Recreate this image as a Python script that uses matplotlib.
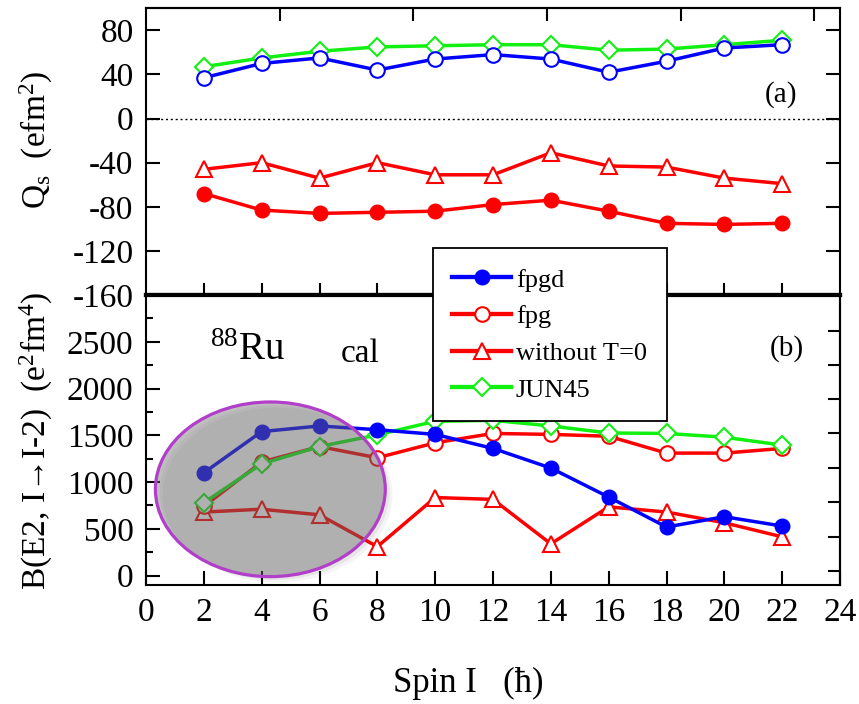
import matplotlib
matplotlib.use("Agg")
import matplotlib.pyplot as plt
from matplotlib.lines import Line2D
from matplotlib.patches import Ellipse

plt.rcParams['font.family'] = ['Liberation Serif', 'DejaVu Serif']
plt.rcParams['mathtext.fontset'] = 'custom'
plt.rcParams['mathtext.rm'] = 'Liberation Serif'
plt.rcParams['mathtext.it'] = 'Liberation Serif:italic'

# ---------------- data ----------------
spin = [2, 4, 6, 8, 10, 12, 14, 16, 18, 20, 22]

# panel (a): spectroscopic quadrupole moment Qs (efm^2)
qs_blue_open = [37, 50, 55, 44, 54, 58, 54, 42, 52, 64, 67]
qs_green = [47, 55, 61, 65, 66, 67, 67, 62, 63, 67, 71]
qs_red_tri = [-46, -40, -54, -40, -51, -51, -31, -43, -44, -54, -59]
qs_red_filled = [-68, -83, -86, -85, -84, -78, -74, -84, -95, -96, -95]

# panel (b): B(E2, I->I-2) (e^2 fm^4)
be2_fpgd = [1100, 1540, 1600, 1560, 1510, 1360, 1150, 840, 520, 630, 530]
be2_fpg = [740, 1215, 1380, 1260, 1420, 1520, 1510, 1490, 1310, 1310, 1360]
be2_noT0 = [680, 710, 650, 310, 835, 815, 340, 735, 680, 565, 415]
be2_jun45 = [780, 1195, 1380, 1505, 1650, 1660, 1600, 1525, 1520, 1480, 1395]

labels = ['fpgd', 'fpg', 'without T=0', 'JUN45']
xticks = [0, 2, 4, 6, 8, 10, 12, 14, 16, 18, 20, 22, 24]
qs_ticks = [-160, -120, -80, -40, 0, 40, 80]
be2_ticks = [0, 500, 1000, 1500, 2000, 2500]

BLUE = '#0000ff'
RED = '#ff0000'
GREEN = '#11f011'
LW = 2.5
MS = 10.5

fig = plt.figure(figsize=(8.59, 7.04), dpi=100)
L, R = 146 / 859, 840 / 859
TOP, MID, BOT = 1 - 8.3 / 704, 1 - 295 / 704, 1 - 585 / 704
ax1 = fig.add_axes([L, MID, R - L, TOP - MID])
ax2 = fig.add_axes([L, BOT, R - L, MID - BOT])

TICKFS = 24

# ---------- panel (a) ----------
ax1.axhline(0, color='black', lw=1.0, ls=(0, (1.5, 2)), zorder=1)
ax1.plot(spin, qs_red_filled, color=RED, lw=LW, marker='o', ms=MS, mfc=RED, mec=RED, zorder=3)
ax1.plot(spin, qs_red_tri, color=RED, lw=LW, marker='^', ms=MS + 1, mfc='white', mec=RED, mew=1.5, zorder=3)
ax1.plot(spin, qs_green, color=GREEN, lw=LW, marker='D', ms=MS - 1.5, mfc='white', mec=GREEN, mew=1.5, zorder=3)
ax1.plot(spin, qs_blue_open, color=BLUE, lw=LW, marker='o', ms=MS, mfc='white', mec=BLUE, mew=1.5, zorder=4)
ax1.set_xlim(0, 24)
ax1.set_ylim(-160, 100)
ax1.set_yticks(qs_ticks)
ax1.set_yticklabels([str(v) for v in qs_ticks], fontsize=TICKFS)
ax1.set_xticks(spin)
ax1.tick_params(axis='x', which='both', direction='in', length=9, width=1.5,
                bottom=True, top=False, labelbottom=False)
ax1.tick_params(axis='y', direction='in', length=10, width=1.5, left=True, right=True, pad=9)
sec_top = ax1.secondary_xaxis('top')
sec_top.set_xticks([4.62, 9.25, 13.87, 18.49, 23.1])
sec_top.tick_params(direction='in', length=9, width=1.5, labeltop=False)
sec_top.spines['top'].set_linewidth(1.5)
ax1.text(21.95, 22, '(a)', fontsize=21, ha='center', va='center')

# ---------- panel (b) ----------
ax2.plot(spin, be2_noT0, color=RED, lw=LW, marker='^', ms=MS + 1, mfc='white', mec=RED, mew=1.5, zorder=3)
ax2.plot(spin, be2_fpg, color=RED, lw=LW, marker='o', ms=MS, mfc='white', mec=RED, mew=1.5, zorder=3)
ax2.plot(spin, be2_jun45, color=GREEN, lw=LW, marker='D', ms=MS - 1.5, mfc='white', mec=GREEN, mew=1.5, zorder=3)
ax2.plot(spin, be2_fpgd, color=BLUE, lw=LW, marker='o', ms=MS, mfc=BLUE, mec=BLUE, zorder=4)
ax2.set_xlim(0, 24)
ax2.set_ylim(-100, 3000)
ax2.set_xticks(xticks)
ax2.set_xticklabels([str(v) for v in xticks], fontsize=TICKFS)
ax2.set_yticks(be2_ticks)
ax2.set_yticklabels([str(v) for v in be2_ticks], fontsize=TICKFS)
ax2.set_yticks([250, 750, 1250, 1750, 2250, 2750], minor=True)
ax2.tick_params(axis='x', direction='in', length=10, width=1.5, top=False, pad=9)
ax2.tick_params(axis='y', which='major', direction='in', length=10, width=1.5, left=True, right=False, pad=9)
ax2.tick_params(axis='y', which='minor', direction='in', length=5, width=1.5, left=True, right=False)
sec_r = ax2.secondary_yaxis('right')
sec_r.set_yticks([50, 418, 786, 1152, 1520, 1888, 2250, 2615])
sec_r.tick_params(direction='in', length=9, width=1.5, labelright=False)
sec_r.spines['right'].set_linewidth(1.5)

for ax in (ax1, ax2):
    for s in ax.spines.values():
        s.set_linewidth(1.5)
ax1.spines['bottom'].set_linewidth(3.0)
ax2.spines['top'].set_linewidth(3.0)

# highlighted region
for dx, dy, a in [(0.25, -60, 0.06), (0.15, -35, 0.08)]:
    ax2.add_patch(Ellipse((4.3 + dx, 923 + dy), 7.95, 1867, facecolor='0.3',
                          edgecolor='none', alpha=a, zorder=5))
ell = Ellipse((4.3, 923), 7.95, 1867, facecolor='0.40', edgecolor='none', alpha=0.42, zorder=6)
ax2.add_patch(ell)
ell_edge = Ellipse((4.3, 923), 7.95, 1867, facecolor='none', edgecolor='#b23fc9', lw=2.3, zorder=7)
ax2.add_patch(ell_edge)

ax2.text(2.2, 2300, r'$^{\mathrm{88}}$Ru', fontsize=28, ha='left', va='baseline')
ax2.text(6.75, 2285, 'cal', fontsize=24, ha='left', va='baseline')
ax2.text(22.15, 2425, '(b)', fontsize=21, ha='center', va='center')

# axis labels
fig.text(46 / 859, 1 - 140 / 704, r'$\mathrm{Q_s}$  (efm$^\mathrm{2}$)', rotation=90,
         fontsize=24, ha='center', va='baseline', rotation_mode='anchor')
fig.text(46 / 859, 1 - 441 / 704, r'B(E2, I→I-2)  (e$^\mathrm{2}$fm$^\mathrm{4}$)', rotation=90,
         fontsize=24, ha='center', va='baseline', rotation_mode='anchor')
fig.text(468 / 859, 1 - 692 / 704, 'Spin I   (ħ)', fontsize=25, ha='center', va='baseline')

# legend
handles = [
    Line2D([], [], color=BLUE, lw=LW + 0.6, marker='o', ms=MS, mfc=BLUE, mec=BLUE),
    Line2D([], [], color=RED, lw=LW + 0.6, marker='o', ms=MS, mfc='white', mec=RED, mew=1.5),
    Line2D([], [], color=RED, lw=LW + 0.6, marker='^', ms=MS + 1, mfc='white', mec=RED, mew=1.5),
    Line2D([], [], color=GREEN, lw=LW + 0.6, marker='D', ms=MS - 1.5, mfc='white', mec=GREEN, mew=1.5),
]
leg = fig.legend(handles, labels, loc='upper left', bbox_to_anchor=(432.7 / 859, 1 - 248.3 / 704),
                 fontsize=19, frameon=True, fancybox=False, edgecolor='black', framealpha=1,
                 handlelength=2.2, handletextpad=0.2, labelspacing=0.5, borderpad=0.75,
                 borderaxespad=0, numpoints=1)
leg.get_frame().set_linewidth(1.3)
leg.set_zorder(20)

fig.savefig('out.png', dpi=100)
